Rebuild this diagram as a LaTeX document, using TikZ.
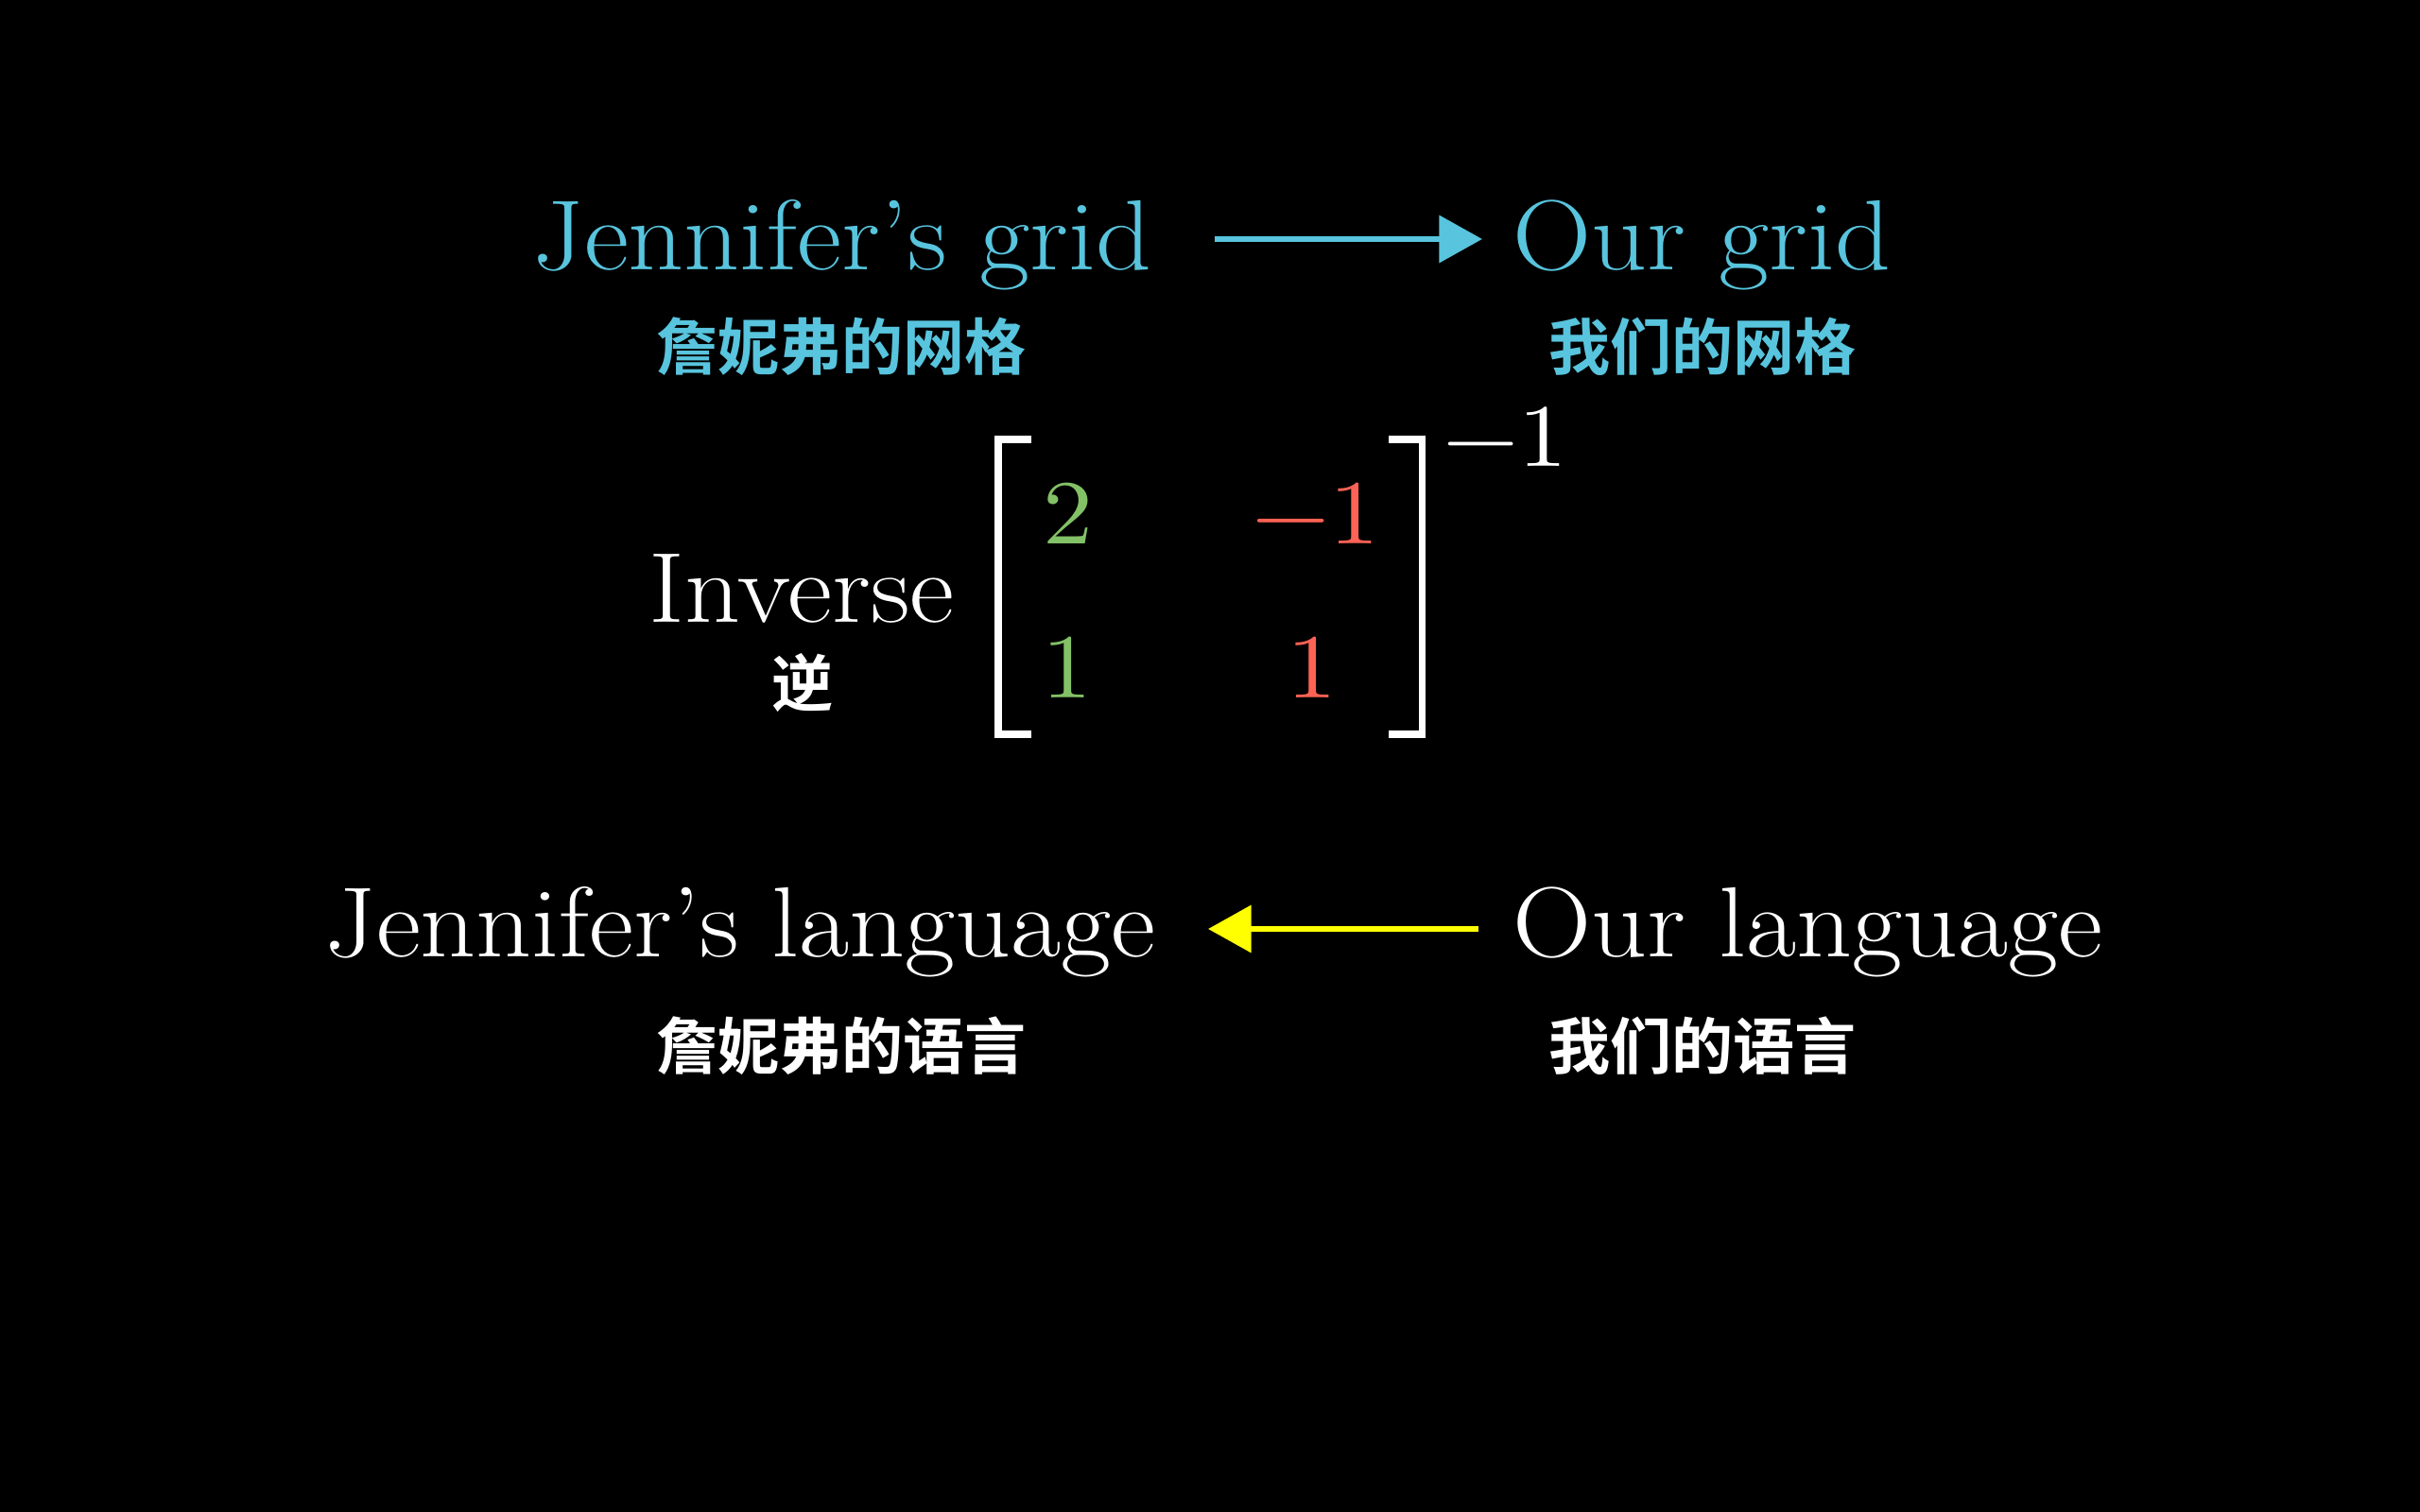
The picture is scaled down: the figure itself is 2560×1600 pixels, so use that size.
\documentclass[tikz,border=0pt]{standalone}
\usepackage{fontspec}
\usepackage{unicode-math}
\usepackage{graphicx}
\newfontfamily\cjk{Noto Sans CJK SC Bold}
\usetikzlibrary{arrows.meta}
\definecolor{mblue}{HTML}{58C4DD}
\definecolor{mgreen}{HTML}{83C167}
\definecolor{mred}{HTML}{FC6255}
\definecolor{myellow}{HTML}{FFFF00}
\newcommand{\wide}[1]{\scalebox{1.094}[1]{#1}}
\begin{document}
\begin{tikzpicture}[x=0.01cm,y=-0.01cm,
  lbl/.style={inner sep=0pt,anchor=base west,font=\fontsize{30}{36}\selectfont},
  zh/.style={inner sep=0pt,anchor=center,font=\cjk\fontsize{18.5}{22}\selectfont},
  ent/.style={inner sep=0pt,anchor=base,font=\fontsize{27.5}{33}\selectfont},
  arr/.style={line width=1.8pt,-{Triangle[length=13pt,width=14pt]}},
  brk/.style={white,line width=2pt}]
\fill[black] (0,0) rectangle (2560,1600);
\useasboundingbox (0,0) rectangle (2560,1600);
% top row
\node[lbl,mblue] (jg) at (563,286) {\wide{Jennifer’s grid}};
\node[lbl,mblue] (og) at (1600,286) {\wide{Our grid}};
\node[zh,mblue] (jgz) at (890,367) {詹妮弗的网格};
\node[zh,mblue] (ogz) at (1801,367) {我们的网格};
\coordinate (ta) at (1285,253);
\coordinate (tb) at (1568,253);
\draw[arr,mblue] (ta) -- (tb);
% matrix
\node[lbl,white] (inv) at (686,658) {\wide{Inverse}};
\node[zh,white] (invz) at (849,723) {逆};
\node[ent,mgreen] (m11) at (1130,575) {\wide{$2$}};
\node[ent,mred] (m12) at (1392,575) {\wide{$-1$}};
\node[ent,mgreen] (m21) at (1129,738) {\wide{$1$}};
\node[ent,mred] (m22) at (1388,738) {\wide{$1$}};
\draw[brk] (1091,465) -- (1056,465) -- (1056,777) -- (1091,777);
\draw[brk] (1469,465) -- (1504,465) -- (1504,777) -- (1469,777);
\node[inner sep=0pt,anchor=base west,white,font=\fontsize{26.8}{32}\selectfont] (sup) at (1526,493) {\wide{$-1$}};
% bottom row
\node[lbl,white] (jl) at (343,1012) {\wide{Jennifer’s language}};
\node[lbl,white] (ol) at (1600,1012) {\wide{Our language}};
\node[zh,white] (jlz) at (890,1107) {詹妮弗的语言};
\node[zh,white] (olz) at (1801,1107) {我们的语言};
\coordinate (ba) at (1564,983);
\coordinate (bb) at (1278,983);
\draw[arr,myellow] (ba) -- (bb);
\end{tikzpicture}
\end{document}
